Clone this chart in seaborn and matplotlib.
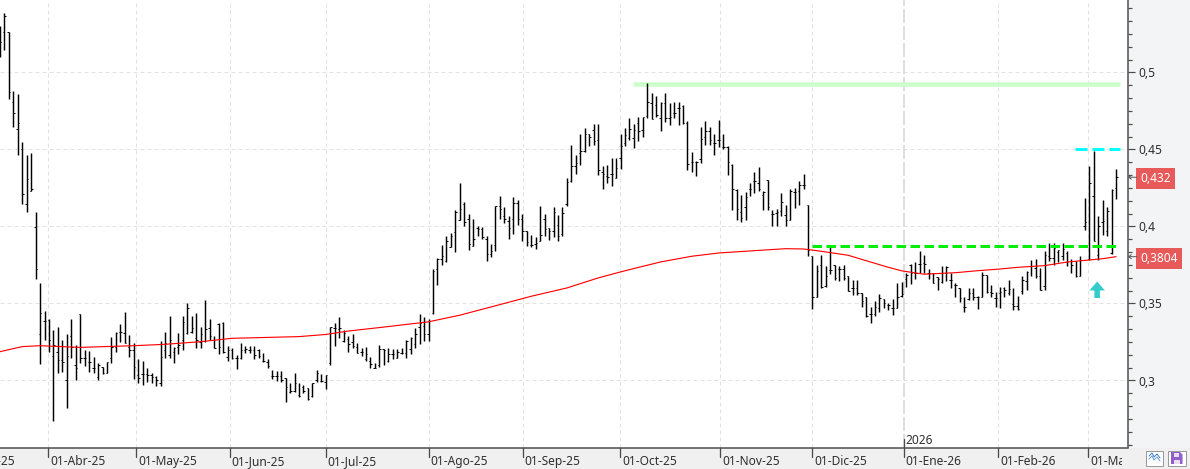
import matplotlib
matplotlib.use("Agg")
import matplotlib.pyplot as plt
import numpy as np
import pandas as pd
import seaborn as sns
from matplotlib.lines import Line2D
from matplotlib.patches import Rectangle, Polygon
from matplotlib.ticker import FixedLocator, FuncFormatter, MultipleLocator
from matplotlib.transforms import Bbox, IdentityTransform, TransformedBbox

# Daily OHLC prices, one value per session
opens = [
    .5250, .5261, .5261, .4811, .4631, .4503, .4146, .4233, .3999, .3300,
    .3387, .3393, .3159, .3183, .3133, .3004, .3289, .3101, .3430, .3144,
    .3122, .3079, .3025, .3086, .3051, .3144, .3220, .3317, .3306, .3220,
    .3198, .3036, .3043, .3043, .3036, .3025, .2982, .3198, .3165, .3187,
    .3220, .3263, .3306, .3317, .3274, .3252, .3259, .3339, .3263, .3365,
    .3376, .3155, .3198, .3144, .3144, .3198, .3198, .3198, .3198, .3129,
    .3122, .3027, .3027, .3027, .3014, .2927, .2934, .2906, .2956, .2950,
    .2900, .3004, .2999, .2993, .3115, .3342, .3336, .3256, .3271, .3252,
    .3217, .3187, .3137, .3126, .3083, .3100, .3202, .3126, .3169, .3148,
    .3180, .3176, .3206, .3239, .3347, .3357, .3305, .3439, .3725, .3791,
    .3774, .3865, .3962, .4040, .4148, .4048, .3876, .3990, .3984, .3919,
    .3824, .3882, .4135, .4066, .4033, .4048, .4152, .4048, .3969, .3878,
    .3886, .3908, .4048, .3990, .3973, .4008, .3951, .4148, .4293, .4390,
    .4476, .4493, .4601, .4627, .4563, .4357, .4325, .4340, .4314, .4444,
    .4541, .4573, .4573, .4675, .4627, .4718, .4800, .4789, .4703, .4800,
    .4703, .4735, .4768, .4785, .4675, .4422, .4422, .4437, .4580, .4617,
    .4541, .4563, .4519, .4515, .4401, .4239, .4094, .4126, .4243, .4293,
    .4282, .4202, .4299, .4081, .4087, .4102, .4077, .4040, .4224, .4228,
    .4271, .4141, .3807, .3543, .3753, .3612, .3716, .3753, .3725, .3725,
    .3677, .3601, .3601, .3569, .3541, .3433, .3435, .3472, .3530, .3493,
    .3468, .3472, .3551, .3657, .3750, .3696, .3756, .3761, .3696, .3696,
    .3670, .3642, .3696, .3653, .3620, .3599, .3480, .3528, .3566, .3540,
    .3545, .3685, .3577, .3534, .3566, .3599, .3566, .3499, .3486, .3579,
    .3644, .3746, .3730, .3681, .3616, .3806, .3795, .3832, .3806, .3827,
    .3774, .3774, .3676, .4005, .3789, .4200, .3812, .4028, .3968, .3828,
    .4249,
]
highs = [
    .5300, .5384, .5261, .4880, .4858, .4547, .4464, .4475, .4092, .3631,
    .3449, .3397, .3328, .3345, .3263, .3300, .3397, .3231, .3430, .3198,
    .3192, .3155, .3116, .3090, .3122, .3280, .3317, .3367, .3443, .3295,
    .3241, .3138, .3129, .3079, .3047, .3032, .3257, .3313, .3419, .3220,
    .3311, .3419, .3501, .3419, .3436, .3349, .3523, .3397, .3289, .3376,
    .3380, .3227, .3209, .3165, .3241, .3225, .3221, .3227, .3203, .3177,
    .3138, .3069, .3062, .3062, .3014, .2982, .3047, .2982, .2971, .2950,
    .2982, .3068, .3042, .3036, .3349, .3375, .3413, .3331, .3288, .3305,
    .3245, .3213, .3219, .3152, .3111, .3232, .3206, .3213, .3206, .3202,
    .3213, .3260, .3284, .3342, .3433, .3413, .3400, .3725, .3796, .3882,
    .3936, .3958, .4109, .4282, .4159, .4081, .4048, .4001, .3997, .3936,
    .3886, .4135, .4200, .4124, .4070, .4189, .4174, .4083, .3973, .3947,
    .3932, .4135, .4081, .3990, .4128, .4072, .4128, .4314, .4530, .4465,
    .4601, .4640, .4601, .4666, .4666, .4394, .4398, .4444, .4444, .4601,
    .4638, .4703, .4666, .4710, .4714, .4930, .4865, .4848, .4807, .4865,
    .4800, .4811, .4807, .4789, .4688, .4483, .4427, .4649, .4686, .4649,
    .4601, .4692, .4601, .4524, .4407, .4243, .4206, .4224, .4282, .4353,
    .4386, .4228, .4303, .4105, .4115, .4217, .4141, .4243, .4249, .4293,
    .4342, .4141, .3807, .3753, .3813, .3742, .3865, .3753, .3742, .3747,
    .3677, .3655, .3655, .3569, .3541, .3476, .3515, .3562, .3532, .3504,
    .3526, .3634, .3642, .3700, .3756, .3772, .3841, .3815, .3722, .3696,
    .3674, .3744, .3744, .3696, .3631, .3603, .3540, .3599, .3599, .3549,
    .3702, .3685, .3620, .3577, .3610, .3605, .3653, .3601, .3551, .3676,
    .3709, .3784, .3789, .3730, .3838, .3892, .3892, .3849, .3892, .3838,
    .3789, .3774, .3806, .4184, .4394, .4491, .4070, .4173, .4126, .4242,
    .4372,
]
lows = [
    .5100, .5146, .4826, .4648, .4467, .4148, .4097, .4233, .3661, .3107,
    .3263, .3187, .2739, .3047, .3058, .2824, .3144, .3004, .3116, .3097,
    .3058, .3047, .3004, .3043, .3047, .3116, .3187, .3252, .3245, .3155,
    .3010, .2986, .2971, .2993, .2986, .2965, .2967, .3149, .3149, .3116,
    .3172, .3198, .3300, .3306, .3213, .3213, .3248, .3263, .3209, .3172,
    .3180, .3129, .3137, .3075, .3140, .3178, .3180, .3138, .3149, .3118,
    .3079, .3008, .2999, .2993, .2863, .2921, .2927, .2895, .2922, .2874,
    .2896, .2993, .2993, .2943, .3100, .3223, .3273, .3249, .3185, .3213,
    .3176, .3159, .3126, .3083, .3079, .3087, .3100, .3120, .3137, .3148,
    .3169, .3148, .3174, .3213, .3239, .3256, .3256, .3429, .3619, .3748,
    .3770, .3865, .3832, .4040, .4001, .3850, .3876, .3936, .3921, .3778,
    .3800, .3839, .4051, .4023, .3921, .3953, .4012, .3908, .3871, .3867,
    .3856, .3908, .3936, .3915, .3930, .3908, .3936, .4131, .4286, .4342,
    .4401, .4487, .4524, .4526, .4336, .4243, .4282, .4260, .4314, .4375,
    .4524, .4563, .4509, .4552, .4584, .4703, .4696, .4714, .4621, .4681,
    .4660, .4703, .4660, .4666, .4364, .4357, .4331, .4411, .4530, .4526,
    .4465, .4515, .4504, .4336, .4109, .4044, .4027, .4044, .4200, .4217,
    .4232, .4105, .4109, .4005, .4001, .4070, .4001, .4040, .4120, .4137,
    .4243, .3811, .3465, .3543, .3601, .3608, .3692, .3655, .3649, .3655,
    .3580, .3558, .3558, .3478, .3411, .3375, .3418, .3446, .3472, .3457,
    .3424, .3468, .3540, .3610, .3627, .3657, .3696, .3696, .3657, .3631,
    .3588, .3636, .3648, .3599, .3545, .3512, .3448, .3523, .3523, .3463,
    .3545, .3566, .3545, .3480, .3473, .3540, .3556, .3460, .3460, .3564,
    .3586, .3676, .3666, .3586, .3590, .3774, .3752, .3767, .3780, .3741,
    .3698, .3672, .3676, .3979, .3784, .3903, .3780, .3946, .3936, .3823,
    .4180,
]
closes = [
    .5196, .5367, .4871, .4735, .4670, .4209, .4306, .4242, .3722, .3436,
    .3387, .3263, .3231, .3133, .3122, .3159, .3220, .3079, .3144, .3144,
    .3122, .3079, .3101, .3047, .3118, .3220, .3306, .3317, .3245, .3198,
    .3090, .3014, .3043, .3036, .3025, .3004, .3151, .3241, .3263, .3209,
    .3231, .3382, .3469, .3339, .3263, .3300, .3332, .3289, .3213, .3220,
    .3187, .3198, .3144, .3144, .3198, .3202, .3198, .3165, .3159, .3129,
    .3094, .3027, .3027, .3004, .2960, .2934, .2986, .2902, .2934, .2880,
    .2982, .3047, .2999, .3036, .3347, .3342, .3342, .3310, .3234, .3223,
    .3180, .3187, .3169, .3105, .3083, .3206, .3197, .3169, .3169, .3185,
    .3180, .3256, .3277, .3305, .3375, .3305, .3385, .3709, .3791, .3807,
    .3904, .3936, .4092, .4113, .4029, .3889, .3919, .3984, .3932, .3824,
    .3839, .4135, .4113, .4048, .3990, .4152, .4048, .3973, .3899, .3878,
    .3893, .3943, .3984, .3973, .4094, .3936, .4087, .4286, .4390, .4411,
    .4493, .4601, .4580, .4552, .4368, .4342, .4321, .4340, .4383, .4524,
    .4595, .4632, .4627, .4623, .4710, .4811, .4696, .4725, .4805, .4703,
    .4710, .4740, .4768, .4675, .4405, .4422, .4416, .4567, .4623, .4563,
    .4541, .4563, .4519, .4418, .4243, .4115, .4055, .4191, .4243, .4293,
    .4243, .4224, .4124, .4081, .4092, .4159, .4040, .4228, .4224, .4271,
    .4271, .3850, .3543, .3709, .3606, .3677, .3716, .3666, .3725, .3666,
    .3580, .3601, .3569, .3515, .3418, .3433, .3478, .3536, .3504, .3493,
    .3468, .3543, .3560, .3685, .3696, .3696, .3756, .3756, .3696, .3636,
    .3657, .3696, .3735, .3653, .3620, .3534, .3480, .3566, .3540, .3540,
    .3685, .3577, .3566, .3534, .3577, .3588, .3592, .3486, .3465, .3650,
    .3705, .3746, .3681, .3590, .3817, .3795, .3860, .3849, .3853, .3774,
    .3752, .3676, .3780, .4028, .4281, .3908, .4005, .4037, .4102, .4238,
    .4320,
]

# 200-session moving average, read at these session numbers
ma_sessions = [0, 5, 9, 18, 30, 37, 45, 52, 67, 73, 78, 86, 96, 103, 112, 119, 127, 134,
               139, 142, 148, 155, 161, 170, 176, 180, 184, 190, 194, 199, 202, 207,
               211, 214, 219, 224, 228, 234, 239, 243, 247, 250]
ma_values = [.3187, .3220, .3226, .3215, .3226, .3235, .3252, .3274, .3285, .3299, .3321,
             .3347, .3381, .3424, .3493, .3547, .3601, .3666, .3705, .3727, .3770, .3807,
             .3828, .3845, .3856, .3854, .3839, .3813, .3778, .3735, .3712, .3690, .3696,
             .3700, .3713, .3724, .3735, .3746, .3769, .3780, .3791, .3804]

# Drawn levels
resistance_level = 0.4923
breakout_level = 0.3873
recent_high_level = 0.45

# Axis text
month_labels = ["01-Mar-25", "01-Abr-25", "01-May-25", "01-Jun-25", "01-Jul-25", "01-Ago-25",
                "01-Sep-25", "01-Oct-25", "01-Nov-25", "01-Dic-25", "01-Ene-26", "01-Feb-26",
                "01-Mar-26"]
month_sessions = [-9.8, 10.85, 30.56, 51.54, 72.97, 96.04, 117.1, 138.95, 161.35, 181.95,
                  202.4, 223.6, 243.76]
year_label = "2026"
price_ticks = [0.3, 0.35, 0.4, 0.45, 0.5]

W, H = 1190, 469
AX_R, AX_B = 1128, 447.5
PX = 72 / 100  # points per pixel at 100 dpi
STEP = 4.465   # pixels per session

sns.set_theme(style="white", rc={"lines.scale_dashes": False})
plt.rcParams["font.family"] = ["Noto Sans", "DejaVu Sans"]
TEXT = "#2f2f2f"
AXIS = "#4a4a4a"
FS = 8.6

fig = plt.figure(figsize=(W / 100, H / 100), dpi=100, facecolor="#f0f0f0")
ax = fig.add_axes([0, (H - AX_B) / H, AX_R / W, AX_B / H], facecolor="white")
fig.patches.append(Rectangle((AX_R, H - AX_B), W - AX_R, AX_B, transform=IdentityTransform(),
                             facecolor="#f3f4f6", edgecolor="none", figure=fig, zorder=-1))

x0 = 0.03
ax.set_xlim(x0, x0 + AX_R / STEP)
ax.set_ylim(0.5 - (AX_B - 72.5) / 1540, 0.5 + 72.5 / 1540)

bars = pd.DataFrame({"session": np.arange(len(closes)), "open": opens, "high": highs,
                     "low": lows, "close": closes})
ranges = bars.melt(id_vars="session", value_vars=["high", "low"], value_name="price")

# Grid: dashed guides at the price levels and month starts
grid_kw = dict(color="#e2e2e2", lw=1.0 * PX, ls=(0, (4 * PX, 3 * PX)), zorder=1)
for p in price_ticks:
    ax.axhline(p, **grid_kw)
for m in month_sessions[1:]:
    if m != month_sessions[10]:
        ax.axvline(m, **grid_kw)
ax.axvline(month_sessions[10], color="#d6d6d6", lw=1.6 * PX, ls=(0, (14 * PX, 3 * PX)), zorder=1)

# OHLC bars: high-low stems plus open (left) and close (right) ticks
sns.lineplot(data=ranges, x="session", y="price", units="session", estimator=None,
             color="black", lw=1.45 * PX, ax=ax, legend=False, zorder=3,
             solid_capstyle="butt")
tick_w = 0.32
ax.hlines(bars["open"], bars["session"] - tick_w, bars["session"], color="black",
          lw=1.0 * PX, zorder=3)
ax.hlines(bars["close"], bars["session"], bars["session"] + tick_w, color="black",
          lw=1.0 * PX, zorder=3)

# Moving average
sns.lineplot(x=ma_sessions, y=ma_values, color="#ff0000", lw=1.15 * PX, ax=ax, zorder=4,
             legend=False)

# Horizontal levels
line_end = (1120 + 0.13) / STEP
ax.plot([(633 + .13) / STEP, line_end], [resistance_level] * 2, color="#ccffcc", lw=4.5 * PX,
        solid_capstyle="butt", zorder=2)
ax.plot([(812 + .13) / STEP, line_end], [breakout_level] * 2, color="#00ee00", lw=3 * PX,
        ls=(0, (9.5 * PX, 4.5 * PX)), dash_capstyle="butt", zorder=5)
ax.plot([(1075 + .13) / STEP, line_end], [recent_high_level] * 2, color="#00ffff", lw=3 * PX,
        ls=(0, (12 * PX, 5 * PX)), dash_capstyle="butt", zorder=5)

# Signal arrow below the latest sessions
ax.annotate("", xy=(245.75, 0.5 - (281.5 - 72.5) / 1540), xytext=(245.75, 0.5 - (298 - 72.5) / 1540),
            arrowprops=dict(facecolor="#33cccc", edgecolor="none", width=5.5 * PX,
                            headwidth=15.5 * PX, headlength=9 * PX, shrink=0), zorder=6)

# Axes frame and ticks
for side in ("top", "left"):
    ax.spines[side].set_visible(False)
for side in ("right", "bottom"):
    ax.spines[side].set_color(AXIS)
    ax.spines[side].set_linewidth(1.5 * PX)

ax.set_xlabel("")
ax.set_ylabel("")
ax.yaxis.tick_right()
ax.yaxis.set_major_locator(FixedLocator(price_ticks))
ax.yaxis.set_minor_locator(MultipleLocator(0.05 / 6))
ax.yaxis.set_major_formatter(FuncFormatter(lambda v, _: f"{v:g}".replace(".", ",")))
ax.tick_params(axis="y", which="major", length=7 * PX, width=1.2 * PX, color=AXIS, pad=3 * PX,
               labelsize=FS, labelcolor=TEXT, right=True, left=False)
ax.tick_params(axis="y", which="minor", length=4 * PX, width=1.2 * PX, color=AXIS, right=True,
               left=False)
ax.set_xticks([])

label_clip = TransformedBbox(Bbox([[0, 0], [1122, H]]), IdentityTransform())
for m, lab in zip(month_sessions, month_labels):
    ax.plot([m, m], [0, -9.5 / AX_B], transform=ax.get_xaxis_transform(), color=AXIS,
            lw=1.3 * PX, clip_on=False, zorder=7)
    t = ax.annotate(lab, (m, 0), xycoords=ax.get_xaxis_transform(), xytext=(1.7 * PX, -13.8 * PX),
                    textcoords="offset points", ha="left", va="center", fontsize=FS, color=TEXT,
                    annotation_clip=False)
    t.set_clip_box(label_clip)
    t.set_clip_on(True)

ax.plot([month_sessions[10]] * 2, [0, 8.5 / AX_B], transform=ax.get_xaxis_transform(), color=AXIS,
        lw=1.3 * PX, zorder=7)
ax.annotate(year_label, (month_sessions[10], 0), xycoords=ax.get_xaxis_transform(),
            xytext=(1.7 * PX, 7.5 * PX), textcoords="offset points", ha="left", va="center",
            fontsize=FS, color=TEXT)

# Last-value flags on the price scale
for value, lab in ((closes[-1], "0,432"), (ma_values[-1], "0,3804")):
    ax.annotate(lab, (1, value), xycoords=ax.get_yaxis_transform(), xytext=(12.3 * PX, 0),
                textcoords="offset points", ha="left", va="center_baseline", fontsize=FS,
                color="white", annotation_clip=False,
                bbox=dict(boxstyle="square,pad=0.32", facecolor="#e85a5a", edgecolor="none"))
    ax.annotate("", xy=(1, value), xycoords=ax.get_yaxis_transform(), xytext=(8.5 * PX, 0),
                textcoords="offset points", annotation_clip=False,
                arrowprops=dict(arrowstyle="->,head_length=0.15,head_width=0.12", color="#555555",
                                lw=0.7, shrinkA=0, shrinkB=0))

# Toolbar buttons in the lower right corner
def fy(py):
    return H - py

fig.patches.append(Rectangle((1146, fy(465.5)), 16.5, 15, transform=IdentityTransform(), facecolor="white",
                             edgecolor="#9a9a9a", lw=1 * PX, figure=fig))
fig.patches.append(Rectangle((1167.5, fy(465.5)), 18, 15, transform=IdentityTransform(), facecolor="white",
                             edgecolor="#9a9a9a", lw=1 * PX, figure=fig))
for dy, colour in ((0, "#3f7fd0"), (3, "#6aa0dc")):
    fig.lines.append(Line2D([1149, 1152, 1154, 1157, 1160],
                            [fy(456 + dy), fy(453 + dy), fy(457 + dy), fy(454 + dy), fy(458 + dy)],
                            transform=IdentityTransform(), color=colour, lw=1 * PX, figure=fig))
fig.patches.append(Polygon([(1171, fy(452)), (1180, fy(452)), (1182.5, fy(454.5)), (1182.5, fy(464)), (1171, fy(464))],
                           transform=IdentityTransform(), facecolor="#9060c8", edgecolor="none", figure=fig))
fig.patches.append(Rectangle((1173.5, fy(456.5)), 5.5, 3.5, transform=IdentityTransform(), facecolor="#e8ddf5",
                             edgecolor="none", figure=fig))
fig.patches.append(Rectangle((1173.5, fy(464)), 6.5, 4, transform=IdentityTransform(), facecolor="#e8ddf5",
                             edgecolor="none", figure=fig))

fig.savefig("out.png", dpi=100, facecolor=fig.get_facecolor())
